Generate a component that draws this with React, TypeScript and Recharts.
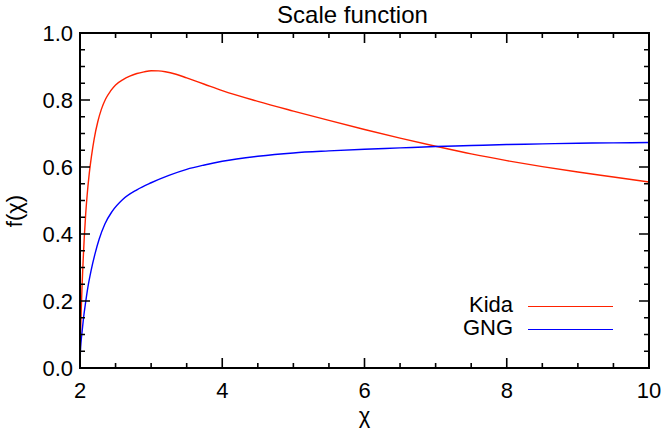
import React from "react";
import { LineChart, Line, XAxis, YAxis, Legend, Label } from "recharts";

// values
const kidaX = [2.0, 2.005, 2.01, 2.02, 2.03, 2.045, 2.06, 2.08, 2.1, 2.13, 2.16, 2.2, 2.25, 2.3, 2.36, 2.43, 2.5, 2.6, 2.7, 2.8, 2.9, 3.0, 3.1, 3.2, 3.35, 3.5, 3.75, 4.0, 4.5, 5.0, 5.5, 6.0, 6.5, 7.0, 7.5, 8.0, 8.5, 9.0, 9.5, 10.0];
const kidaY = [0, 0.07, 0.12, 0.19, 0.25, 0.325, 0.39, 0.46, 0.515, 0.58, 0.63, 0.685, 0.735, 0.772, 0.803, 0.827, 0.845, 0.86, 0.871, 0.879, 0.884, 0.8875, 0.887, 0.8845, 0.877, 0.866, 0.847, 0.828, 0.796, 0.767, 0.739, 0.712, 0.686, 0.662, 0.639, 0.619, 0.601, 0.585, 0.57, 0.555];

const gngX = [2.0, 2.005, 2.01, 2.02, 2.03, 2.05, 2.075, 2.11, 2.155, 2.21, 2.27, 2.35, 2.45, 2.6, 2.8, 3.0, 3.25, 3.5, 3.75, 4.0, 4.5, 5.0, 5.5, 6.0, 6.5, 7.0, 7.5, 8.0, 8.5, 9.0, 9.5, 10.0];
const gngY = [0, 0.045, 0.065, 0.09, 0.11, 0.15, 0.19, 0.24, 0.29, 0.34, 0.385, 0.43, 0.467, 0.503, 0.532, 0.553, 0.575, 0.593, 0.606, 0.617, 0.632, 0.642, 0.648, 0.653, 0.657, 0.661, 0.664, 0.667, 0.669, 0.671, 0.672, 0.673];

const seriesNames = ["Kida", "GNG"];
const seriesColors = ["#ff2200", "#0000ff"];

const xMajor = [2, 4, 6, 8, 10];
const xMinor = [2.5, 3, 3.5, 4.5, 5, 5.5, 6.5, 7, 7.5, 8.5, 9, 9.5];
const xTickLabels = ["2", "4", "6", "8", "10"];

const yMajor = [0, 0.2, 0.4, 0.6, 0.8, 1.0];
const yMinor = [0.05, 0.1, 0.15, 0.25, 0.3, 0.35, 0.45, 0.5, 0.55, 0.65, 0.7, 0.75, 0.85, 0.9, 0.95];
const yTickLabels = ["0.0", "0.2", "0.4", "0.6", "0.8", "1.0"];

const kidaData = kidaX.map((x, i) => ({ x, y: kidaY[i] }));
const gngData = gngX.map((x, i) => ({ x, y: gngY[i] }));

const W = 663;
const H = 434;
const MARGIN = { top: 33, right: 14, bottom: 0, left: 0 };
const Y_AXIS_W = 80;
const X_AXIS_H = 66;
const PLOT_W = W - MARGIN.right - Y_AXIS_W;
const PLOT_H = H - MARGIN.top - X_AXIS_H;
const FRAME_W = 2;

const FONT = "'Liberation Sans', Arial, Helvetica, sans-serif";
const INK = "#000";

// IDL style: ticks point inward on all four sides, major longer than minor
const xTick = (props: any) => {
  const { x, y, payload } = props;
  const i = xMajor.indexOf(payload.value);
  const len = i >= 0 ? 10 : 5;
  const top = y - PLOT_H;
  return (
    <g>
      <path d={`M${x},${y}V${y - len}M${x},${top}V${top + len}`} stroke={INK} strokeWidth={1.6} fill="none" />
      {i >= 0 && (
        <text x={x} y={y + 29.5} textAnchor="middle" fontSize={22} fontFamily={FONT} fill={INK}>
          {xTickLabels[i]}
        </text>
      )}
    </g>
  );
};

const yTick = (props: any) => {
  const { x, y, payload } = props;
  const i = yMajor.indexOf(payload.value);
  const len = i >= 0 ? 10 : 5;
  const right = x + PLOT_W;
  return (
    <g>
      <path d={`M${x},${y}H${x + len}M${right},${y}H${right - len}`} stroke={INK} strokeWidth={1.6} fill="none" />
      {i >= 0 && (
        <text x={x - 7} y={y + 8} textAnchor="end" fontSize={22} fontFamily={FONT} fill={INK}>
          {yTickLabels[i]}
        </text>
      )}
    </g>
  );
};

const renderLegend = () => (
  <div style={{ fontFamily: FONT, fontSize: 22, color: INK }}>
    {seriesNames.map((name, i) => (
      <div key={name} style={{ display: "flex", alignItems: "center", height: 23 }}>
        <span style={{ width: 63, textAlign: "right", lineHeight: "23px" }}>{name}</span>
        <span
          style={{
            marginLeft: 15,
            width: 85,
            height: 0,
            borderTop: `1.4px solid ${seriesColors[i]}`,
            position: "relative",
            top: 2,
          }}
        />
      </div>
    ))}
  </div>
);

export default function App() {
  return (
    <div style={{ position: "absolute", left: 0, top: 0, width: W, height: H }}>
      <LineChart width={W} height={H} margin={MARGIN}>
        <XAxis
          type="number"
          dataKey="x"
          domain={[2, 10]}
          allowDataOverflow
          ticks={[...xMajor, ...xMinor]}
          interval={0}
          height={X_AXIS_H}
          tickSize={0}
          tickMargin={0}
          tickLine={false}
          axisLine={false}
          tick={xTick}
        >
          <Label
            content={(p: any) => (
              <text
                x={p.viewBox.x + p.viewBox.width / 2}
                y={p.viewBox.y + 54.5}
                textAnchor="middle"
                fontSize={22}
                fontFamily={FONT}
                fill={INK}
              >
                χ
              </text>
            )}
          />
        </XAxis>
        <YAxis
          type="number"
          dataKey="y"
          domain={[0, 1]}
          allowDataOverflow
          ticks={[...yMajor, ...yMinor]}
          interval={0}
          width={Y_AXIS_W}
          tickSize={0}
          tickMargin={0}
          tickLine={false}
          axisLine={false}
          tick={yTick}
        >
          <Label
            content={(p: any) => {
              const cx = 22;
              const cy = p.viewBox.y + p.viewBox.height / 2 + 10.5;
              const tx = p.viewBox.x + p.viewBox.width + PLOT_W / 2 - 12;
              return (
                <g>
                  <text
                    x={cx}
                    y={cy}
                    transform={`rotate(-90, ${cx}, ${cy})`}
                    textAnchor="middle"
                    fontSize={22}
                    fontFamily={FONT}
                    fill={INK}
                  >
                    f(χ)
                  </text>
                  <text x={tx} y={p.viewBox.y - 10.5} textAnchor="middle" fontSize={24} fontFamily={FONT} fill={INK}>
                    Scale function
                  </text>
                </g>
              );
            }}
          />
        </YAxis>
        <Line
          data={kidaData}
          dataKey="y"
          name={seriesNames[0]}
          type="monotone"
          stroke={seriesColors[0]}
          strokeWidth={1.4}
          dot={false}
          isAnimationActive={false}
        />
        <Line
          data={gngData}
          dataKey="y"
          name={seriesNames[1]}
          type="monotone"
          stroke={seriesColors[1]}
          strokeWidth={1.4}
          dot={false}
          isAnimationActive={false}
        />
        <Legend
          layout="horizontal"
          verticalAlign="middle"
          align="center"
          content={renderLegend}
          wrapperStyle={{ left: 450, top: 293, width: 170 }}
        />
      </LineChart>
      {/* plot box frame */}
      <div
        style={{
          position: "absolute",
          left: Y_AXIS_W - FRAME_W / 2,
          top: MARGIN.top - FRAME_W / 2,
          width: PLOT_W + FRAME_W,
          height: PLOT_H + FRAME_W,
          border: `${FRAME_W}px solid ${INK}`,
          boxSizing: "border-box",
          pointerEvents: "none",
        }}
      />
    </div>
  );
}
